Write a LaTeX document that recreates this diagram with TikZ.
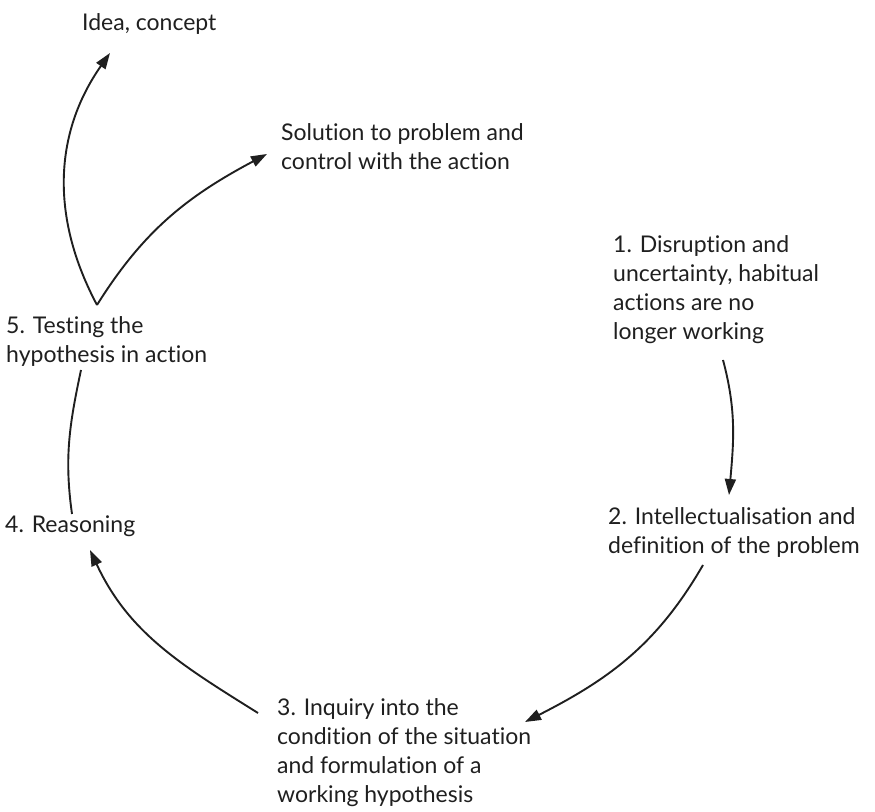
\documentclass[tikz,border=0pt]{standalone}
\usepackage{fontspec}
\setmainfont{Lato}[Ligatures=NoCommon]
\usetikzlibrary{arrows.meta}
\begin{document}
\begin{tikzpicture}[x=1pt,y=1pt,
  lbl/.style={anchor=north west,align=left,inner sep=0pt,text=black!88,font=\fontsize{23}{29}\selectfont},
  arr/.style={line width=1.9pt,draw=black!88,-{Triangle[length=16pt,width=11pt]}},
  ln/.style={line width=1.9pt,draw=black!88}]
\useasboundingbox (0,0) rectangle (875,811);
\node[lbl] (idea) at (82,798) {Idea, concept};
\node[lbl] (sol) at (281,688) {Solution to problem and\\control with the action};
\node[lbl] (n1) at (613,576) {1. Disruption and\\uncertainty, habitual\\actions are no\\longer working};
\node[lbl] (n2) at (608,304) {2. Intellectualisation and\\definition of the problem};
\node[lbl] (n3) at (277,113) {3. Inquiry into the\\condition of the situation\\and formulation of a\\working hypothesis};
\node[lbl] (n4) at (5,295) {4. Reasoning};
\node[lbl] (n5) at (6,495) {5. Testing the\\hypothesis in action};
\coordinate (a0) at (97,506);
\coordinate (aI) at (110,758);
\coordinate (aS) at (267,657);
\coordinate (b1s) at (723,451);
\coordinate (b1e) at (729,316);
\coordinate (b2s) at (703,246);
\coordinate (b2e) at (525,89);
\coordinate (b3s) at (258,98);
\coordinate (b3e) at (90,261);
\coordinate (b4s) at (72,297);
\coordinate (b4e) at (81,441);
\draw[arr] (a0) to[out=118,in=235] (aI);
\draw[arr] (a0) to[out=58,in=208] (aS);
\draw[arr] (b1s) to[out=-75,in=85] (b1e);
\draw[arr] (b2s) to[out=-120,in=27] (b2e);
\draw[arr] (b3s) to[out=148,in=-65] (b3e);
\draw[ln] (b4s) to[out=98,in=258] (b4e);
\end{tikzpicture}
\end{document}
